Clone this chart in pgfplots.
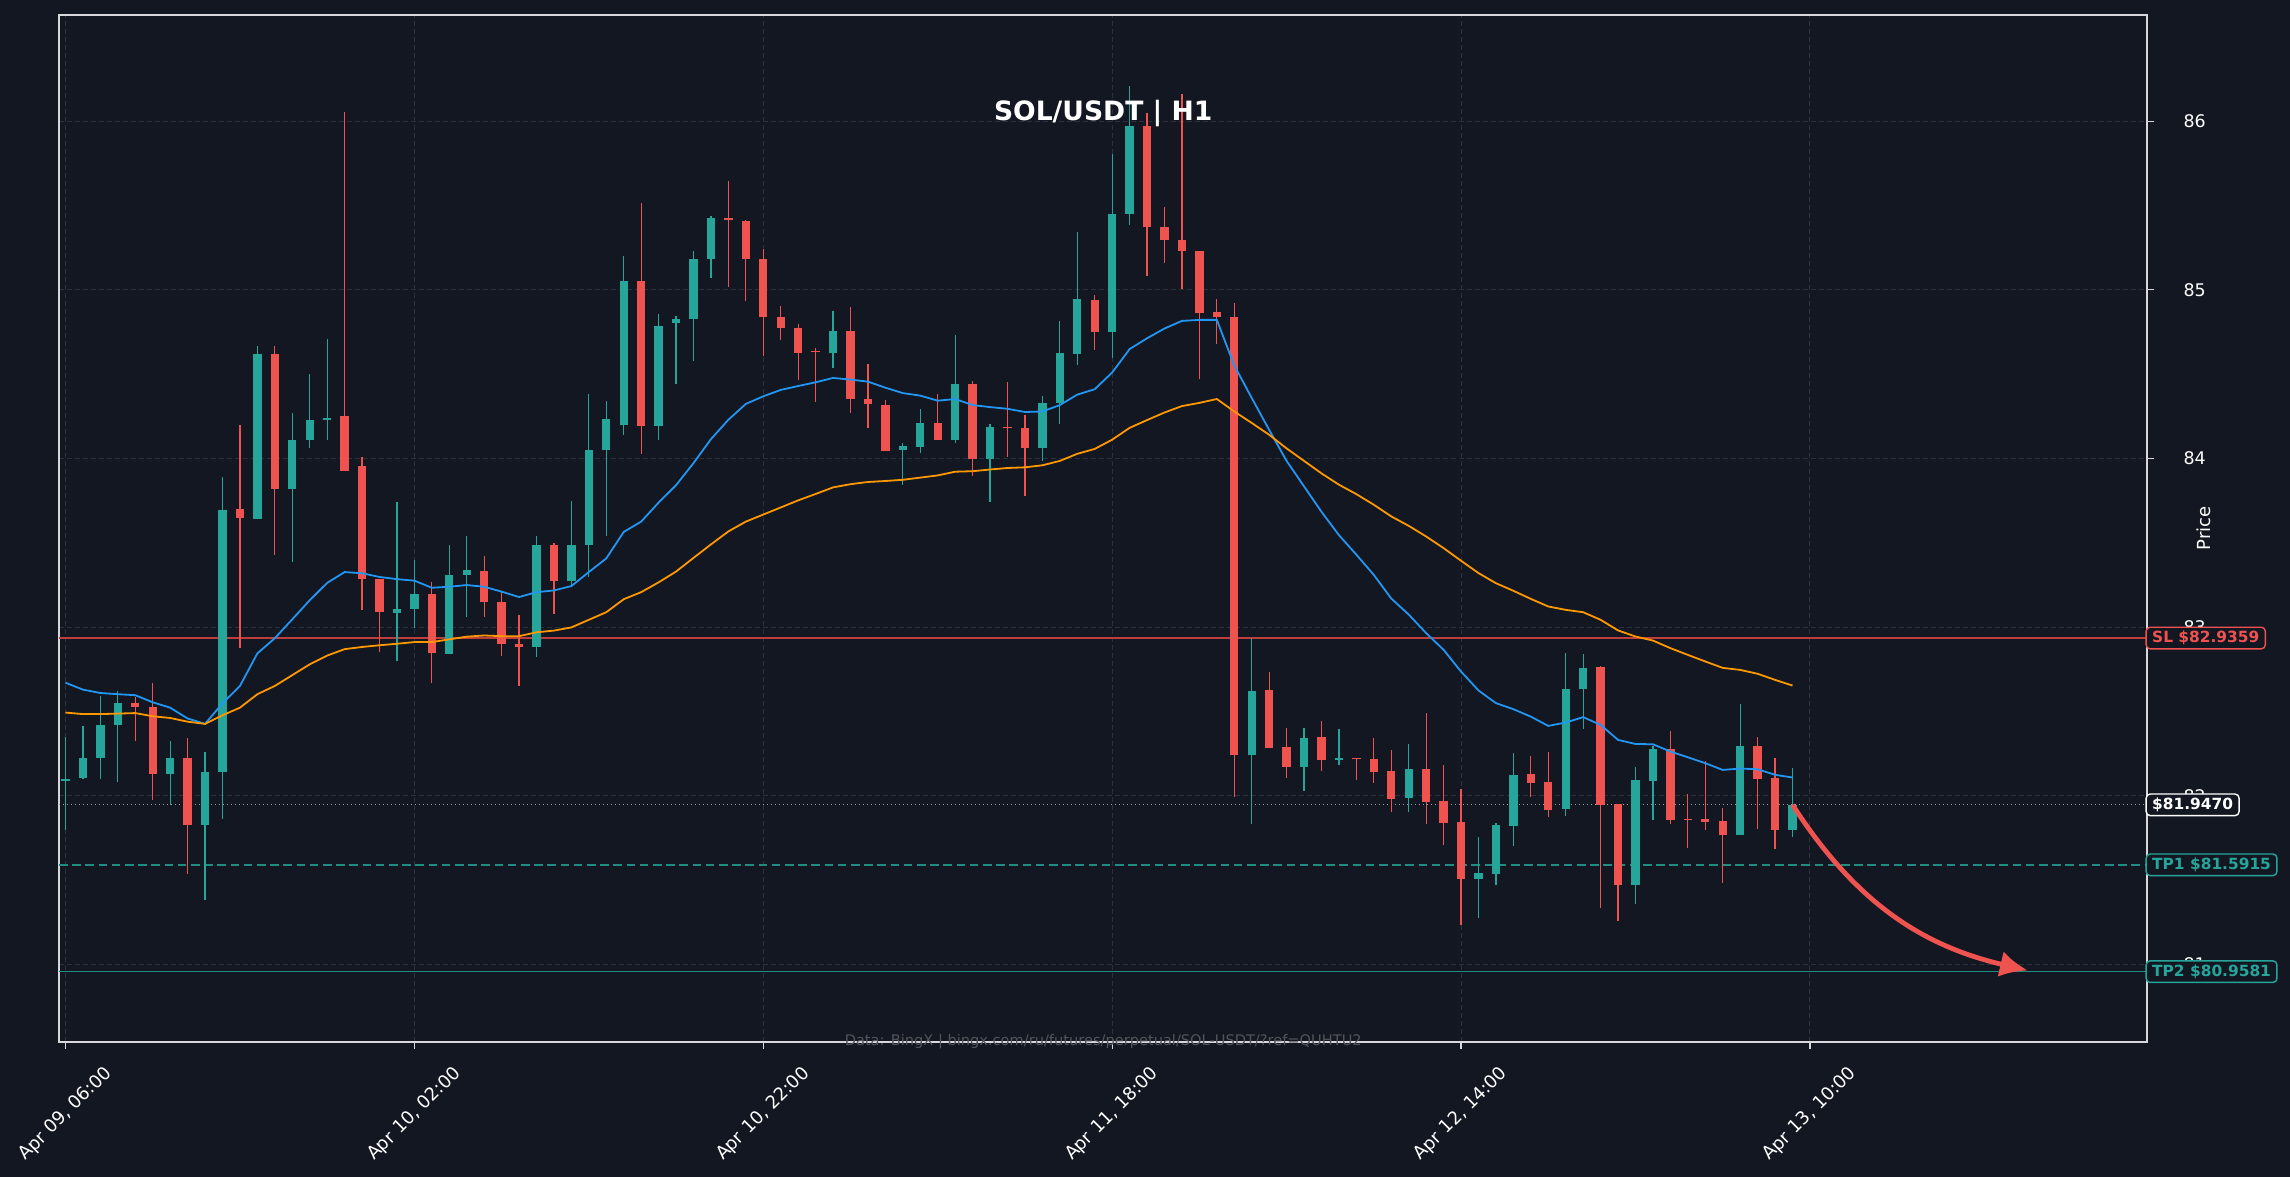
\documentclass[border=0pt]{standalone}
\usepackage{fontspec}
\setmainfont{DejaVu Sans}
\usepackage{pgfplots}
\usepackage{pgfplotstable}
\pgfplotsset{compat=1.18}
\usetikzlibrary{arrows.meta}

\definecolor{bg}{RGB}{19,23,34}
\definecolor{upc}{RGB}{38,166,154}
\definecolor{dnc}{RGB}{239,83,80}
\definecolor{gridc}{RGB}{44,48,60}
\definecolor{spine}{RGB}{215,215,220}
\definecolor{emaf}{RGB}{33,150,243}
\definecolor{emas}{RGB}{255,152,0}
\definecolor{slc}{RGB}{190,62,62}
\definecolor{tpc}{RGB}{33,140,130}
\definecolor{wm}{RGB}{82,84,90}

% up candles: index open high low close
\pgfplotstableread{
i o h l c
0 82.090 82.350 81.800 82.100
1 82.108 82.414 82.100 82.227
2 82.227 82.594 82.099 82.420
3 82.420 82.620 82.080 82.549
6 82.128 82.324 81.944 82.227
8 81.826 82.260 81.382 82.141
9 82.141 83.890 81.864 83.697
11 83.640 84.665 83.640 84.617
13 83.820 84.269 83.385 84.112
14 84.110 84.501 84.060 84.228
15 84.228 84.707 84.112 84.240
19 83.083 83.745 82.797 83.111
20 83.111 83.398 82.996 83.198
22 82.840 83.488 82.840 83.311
23 83.311 83.539 83.063 83.337
27 82.880 83.539 82.826 83.488
29 83.272 83.751 83.253 83.488
30 83.488 84.382 83.298 84.050
31 84.050 84.340 83.543 84.237
32 84.200 85.200 84.140 85.054
34 84.192 84.855 84.112 84.787
35 84.804 84.845 84.443 84.829
36 84.826 85.230 84.581 85.186
37 85.183 85.437 85.073 85.427
44 84.626 84.874 84.539 84.758
48 84.050 84.092 83.845 84.076
49 84.070 84.292 84.035 84.211
51 84.108 84.732 84.092 84.443
53 83.996 84.202 83.745 84.189
56 84.060 84.369 83.986 84.327
57 84.327 84.813 84.205 84.623
58 84.620 85.343 84.552 84.948
60 84.748 85.803 84.594 85.452
61 85.450 86.208 85.385 85.973
68 82.240 82.938 81.835 82.623
71 82.170 82.401 82.028 82.343
73 82.210 82.395 82.182 82.227
77 81.990 82.310 81.903 82.158
81 81.510 81.759 81.274 81.541
82 81.539 81.838 81.470 81.826
83 81.824 82.257 81.701 82.125
86 81.925 82.846 81.879 82.635
87 82.631 82.840 82.397 82.759
90 81.474 82.170 81.359 82.095
91 82.091 82.293 81.856 82.279
96 81.771 82.544 81.767 82.297
99 81.800 82.164 81.759 81.947
}\upt

% down candles: index open high low close
\pgfplotstableread{
i o h l c
4 82.552 82.587 82.324 82.526
5 82.530 82.668 81.976 82.128
7 82.227 82.346 81.536 81.826
10 83.703 84.198 82.877 83.649
12 84.620 84.665 83.427 83.819
16 84.253 86.054 83.925 83.925
17 83.954 84.012 83.105 83.285
18 83.285 83.285 82.855 83.089
21 83.198 83.266 82.668 82.845
24 83.334 83.420 83.063 83.147
25 83.150 83.208 82.832 82.902
26 82.902 83.070 82.652 82.880
28 83.488 83.497 83.080 83.272
33 85.054 85.513 84.028 84.192
38 85.427 85.645 85.018 85.414
39 85.410 85.417 84.935 85.183
40 85.183 85.240 84.607 84.838
41 84.838 84.903 84.703 84.774
42 84.774 84.800 84.468 84.626
43 84.640 84.658 84.337 84.630
45 84.758 84.896 84.272 84.353
46 84.353 84.559 84.182 84.321
47 84.318 84.350 84.047 84.047
50 84.211 84.382 84.108 84.108
52 84.443 84.459 83.896 83.996
54 84.190 84.452 84.012 84.180
55 84.183 84.256 83.777 84.060
59 84.942 84.967 84.645 84.748
62 85.973 86.047 85.083 85.372
63 85.375 85.491 85.160 85.295
64 85.295 86.160 85.006 85.231
65 85.231 85.231 84.469 84.864
66 84.867 84.944 84.677 84.838
67 84.841 84.922 81.996 82.240
69 82.630 82.732 82.285 82.285
70 82.292 82.401 82.105 82.170
72 82.350 82.443 82.150 82.211
74 82.227 82.227 82.092 82.216
75 82.217 82.342 82.075 82.144
76 82.148 82.271 81.903 81.984
78 82.158 82.494 81.832 81.966
79 81.968 82.182 81.707 81.842
80 81.846 82.043 81.235 81.510
84 82.130 82.235 81.992 82.079
85 82.083 82.263 81.873 81.919
88 82.765 82.771 81.334 81.949
89 81.952 81.952 81.259 81.474
92 82.279 82.383 81.832 81.860
93 81.866 82.010 81.690 81.856
94 81.863 82.206 81.796 81.848
95 81.852 81.931 81.482 81.771
97 82.297 82.350 81.802 82.103
98 82.107 82.223 81.686 81.800
}\dnt

% moving averages: index fast slow
\pgfplotstableread{
i f s
0 82.671 82.494
1 82.630 82.485
2 82.610 82.485
3 82.603 82.488
4 82.597 82.491
5 82.555 82.472
6 82.523 82.462
7 82.459 82.440
8 82.427 82.427
9 82.549 82.478
10 82.652 82.523
11 82.845 82.603
12 82.935 82.652
13 83.047 82.716
14 83.160 82.780
15 83.263 82.832
16 83.327 82.870
17 83.320 82.883
18 83.298 82.893
19 83.285 82.902
20 83.276 82.912
21 83.234 82.912
22 83.240 82.928
23 83.250 82.944
24 83.240 82.951
25 83.211 82.947
26 83.179 82.947
27 83.208 82.970
28 83.218 82.980
29 83.244 82.999
30 83.327 83.044
31 83.408 83.089
32 83.565 83.166
33 83.626 83.208
34 83.739 83.266
35 83.842 83.330
36 83.973 83.411
37 84.115 83.491
38 84.230 83.568
39 84.324 83.626
40 84.369 83.668
41 84.407 83.710
42 84.430 83.752
43 84.452 83.790
44 84.478 83.829
45 84.468 83.848
46 84.456 83.861
47 84.420 83.867
48 84.388 83.874
49 84.373 83.887
50 84.343 83.900
51 84.353 83.922
52 84.317 83.925
53 84.305 83.935
54 84.295 83.944
55 84.276 83.948
56 84.279 83.960
57 84.317 83.986
58 84.379 84.028
59 84.411 84.057
60 84.510 84.112
61 84.649 84.182
62 84.713 84.228
63 84.771 84.273
64 84.816 84.311
65 84.822 84.330
66 84.822 84.353
67 84.552 84.279
68 84.359 84.211
69 84.170 84.141
70 83.986 84.060
71 83.835 83.986
72 83.684 83.912
73 83.546 83.845
74 83.430 83.789
75 83.310 83.726
76 83.170 83.657
77 83.075 83.601
78 82.965 83.538
79 82.866 83.469
80 82.737 83.394
81 82.625 83.321
82 82.550 83.261
83 82.514 83.216
84 82.470 83.168
85 82.415 83.123
86 82.435 83.103
87 82.467 83.089
88 82.421 83.044
89 82.332 82.981
90 82.308 82.945
91 82.306 82.921
92 82.263 82.876
93 82.229 82.836
94 82.194 82.797
95 82.154 82.759
96 82.162 82.747
97 82.158 82.724
98 82.125 82.688
99 82.109 82.654
}\emat

\begin{document}
\begin{tikzpicture}
\path[use as bounding box, fill=bg] (-29.5pt,-67.5pt) rectangle (1115.5pt,521pt);
\begin{axis}[
  at={(0pt,0pt)}, anchor=south west,
  scale only axis, width=1044.25pt, height=513.7pt,
  xmin=-0.373, xmax=119.35, ymin=80.541, ymax=86.632,
  clip mode=individual,
  axis background/.style={fill=bg},
  axis line style={draw=spine, line width=1pt},
  xtick={0,20,40,60,80,100},
  xticklabels={{Apr 09, 06:00},{Apr 10, 02:00},{Apr 10, 22:00},{Apr 11, 18:00},{Apr 12, 14:00},{Apr 13, 10:00}},
  ytick={81,82,83,84,85,86},
  xtick pos=bottom, ytick pos=right, yticklabel pos=right,
  tick align=outside, major tick length=3.5pt,
  tick style={draw=spine, line width=0.6pt},
  grid=major,
  major grid style={draw=gridc, dash pattern=on 2.5pt off 1.5pt, line width=0.5pt},
  ticklabel style={text=white},
  xticklabel style={font=\fontsize{9}{10}\selectfont, yshift=-32.5pt, rotate=45, anchor=center},
  yticklabel style={font=\fontsize{8.7}{10}\selectfont, anchor=west, xshift=11pt},
  /pgf/number format/assume math mode=true,
]
% level lines
\addplot[slc, line width=0.7pt, forget plot] coordinates {(-0.373,82.9359) (119.35,82.9359)};
\addplot[tpc, line width=0.7pt, dash pattern=on 4.3pt off 2.3pt, forget plot] coordinates {(-0.373,81.5915) (119.35,81.5915)};
\addplot[tpc, line width=0.7pt, forget plot] coordinates {(-0.373,80.9581) (119.35,80.9581)};
\addplot[gray!75, line width=0.6pt, dash pattern=on 0.7pt off 1.3pt, forget plot] coordinates {(-0.373,81.947) (119.35,81.947)};
% wicks
\addplot[draw=none, mark=none, forget plot,
  error bars/.cd, y dir=plus, y explicit, error mark=none,
  error bar style={draw=upc, line width=0.6pt}]
  table[x=i, y=l, y error plus expr=\thisrow{h}-\thisrow{l}] {\upt};
\addplot[draw=none, mark=none, forget plot,
  error bars/.cd, y dir=plus, y explicit, error mark=none,
  error bar style={draw=dnc, line width=0.6pt}]
  table[x=i, y=l, y error plus expr=\thisrow{h}-\thisrow{l}] {\dnt};
% bodies
\addplot[draw=none, mark=none, forget plot,
  error bars/.cd, y dir=plus, y explicit, error mark=none,
  error bar style={draw=upc, line width=4.15pt, line cap=butt}]
  table[x=i, y=o, y error plus expr=\thisrow{c}-\thisrow{o}] {\upt};
\addplot[draw=none, mark=none, forget plot,
  error bars/.cd, y dir=plus, y explicit, error mark=none,
  error bar style={draw=dnc, line width=4.15pt, line cap=butt}]
  table[x=i, y=c, y error plus expr=\thisrow{o}-\thisrow{c}] {\dnt};
% moving averages
\addplot[emaf, line width=0.9pt, mark=none] table[x=i, y=f] {\emat};
\addplot[emas, line width=0.9pt, mark=none] table[x=i, y=s] {\emat};
% arrow
\draw[dnc, line width=2.4pt, -{Latex[length=14pt,width=13pt]}] (axis cs:99,81.947) to[bend right=22] (axis cs:112.5,80.965);
% title, watermark, label
\node[anchor=base, text=white, font=\bfseries\fontsize{13.3}{15}\selectfont] at (rel axis cs:0.5,0.8972) {SOL/USDT | H1};
\node[anchor=center, text=wm, font=\fontsize{7.3}{8}\selectfont] at (rel axis cs:0.5,0) {Data: BingX | bingx.com/ru/futures/perpetual/SOL-USDT/?ref=QUHTU2};
\node[text=white, font=\fontsize{9}{10}\selectfont, xshift=28.25pt, rotate=90, anchor=center] at (rel axis cs:1,0.5) {Price};
\coordinate (pSL) at (axis cs:119.35,82.9359);
\coordinate (pCUR) at (axis cs:119.35,81.947);
\coordinate (pTP1) at (axis cs:119.35,81.5915);
\coordinate (pTP2) at (axis cs:119.35,80.9581);
\end{axis}
\tikzset{lvl/.style={anchor=west, xshift=-1pt, fill=bg, rounded corners=2pt, line width=0.7pt,
  font=\bfseries\fontsize{7.7}{9}\selectfont, inner xsep=3pt, inner ysep=0pt, minimum height=10.8pt}}
\node[lvl, draw=dnc, text=dnc] at (pSL) {SL \$82.9359};
\node[lvl, draw=white, text=white] at (pCUR) {\$81.9470};
\node[lvl, draw=upc, text=upc] at (pTP1) {TP1 \$81.5915};
\node[lvl, draw=upc, text=upc] at (pTP2) {TP2 \$80.9581};
\end{tikzpicture}
\end{document}
